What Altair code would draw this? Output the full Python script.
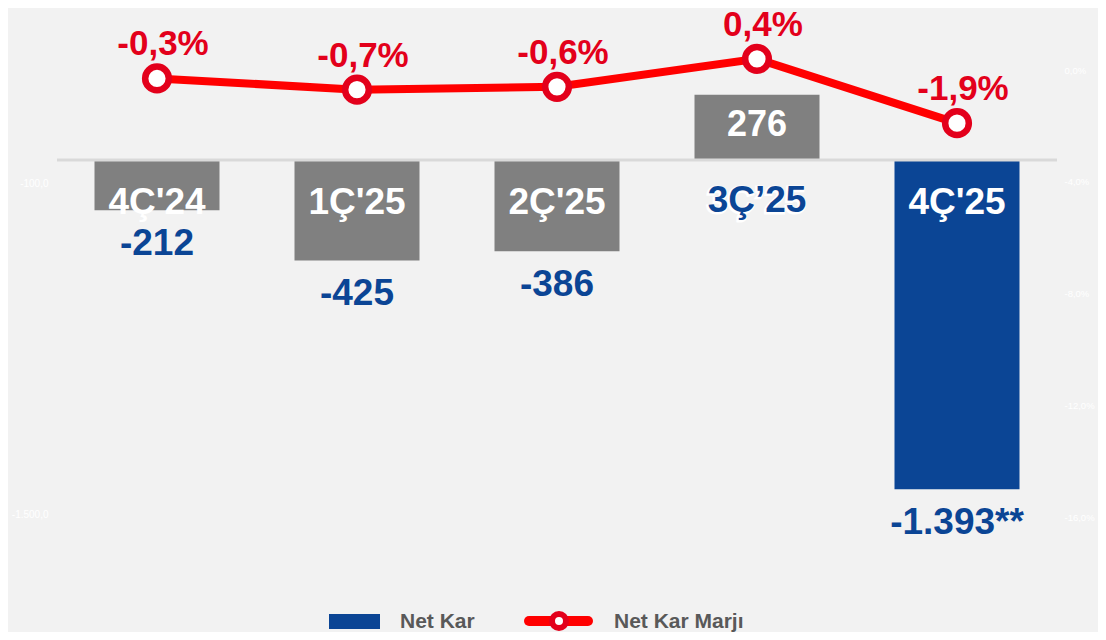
import altair as alt
import pandas as pd

categories = ["4Ç'24", "1Ç'25", "2Ç'25", "3Ç’25", "4Ç'25"]
net_kar = [-212, -425, -386, 276, -1393]
net_kar_labels = ["-212", "-425", "-386", "276", "-1.393**"]
margin = [-0.3, -0.7, -0.6, 0.4, -1.9]
margin_labels = ["-0,3%", "-0,7%", "-0,6%", "0,4%", "-1,9%"]
left_ticks = [-100, -1500]
left_tick_labels = ["-100,0", "-1.500,0"]
right_ticks = [0, -4, -8, -12, -16]
right_tick_labels = ["0,0%", "-4,0%", "-8,0%", "-12,0%", "-16,0%"]
legend_names = ["Net Kar", "Net Kar Marjı"]
highlight = "4Ç'25"
blue_label_cat = "3Ç’25"

BLUE = "#0b4595"
GRAY = "#808080"
RED_LINE = "#ff0000"
RED = "#e3001b"
BG = "#f2f2f2"
FONT = "Liberation Sans"

df = pd.DataFrame({
    "cat": categories,
    "val": net_kar,
    "vlab": net_kar_labels,
    "m": margin,
    "mlab": margin_labels,
})


def label_expr(vals, labs):
    s = "''"
    for v, l in reversed(list(zip(vals, labs))):
        s = f"datum.value == {v} ? '{l}' : ({s})"
    return s


x = alt.X("cat:N", sort=categories, axis=None,
          scale=alt.Scale(paddingInner=0.375, paddingOuter=0.1875))
yl_scale = alt.Scale(domain=[-1510, 605], nice=False, zero=False)
yr_scale = alt.Scale(domain=[-16, 1.9], nice=False, zero=False)

base = alt.Chart(df)

bars = base.mark_bar().encode(
    x=x,
    y=alt.Y("val:Q", scale=yl_scale, title=None,
            axis=alt.Axis(orient="left", values=left_ticks,
                          labelExpr=label_expr(left_ticks, left_tick_labels),
                          labelColor="white", labelFontSize=10, labelFont=FONT,
                          domain=False, ticks=False, grid=False, labelPadding=9)),
    color=alt.condition(alt.datum.cat == highlight, alt.value(BLUE), alt.value(GRAY)),
)

zero = base.transform_filter(alt.datum.cat == categories[0]).mark_rule(
    color="#d9d9d9", strokeWidth=3
).encode(y=alt.Y("z:Q", scale=yl_scale, axis=None)).transform_calculate(z="0")

neg_labels = base.transform_filter(alt.datum.val < 0).mark_text(
    font=FONT, fontWeight="bold", fontSize=37, color=BLUE, baseline="alphabetic", dy=45
).encode(x=x, y=alt.Y("val:Q", scale=yl_scale, axis=None), text="vlab:N")

pos_labels = base.transform_filter(alt.datum.val >= 0).mark_text(
    font=FONT, fontWeight="bold", fontSize=36, color="white", baseline="alphabetic", dy=41
).encode(x=x, y=alt.Y("val:Q", scale=yl_scale, axis=None), text="vlab:N")

cat_white = base.transform_filter(alt.datum.cat != blue_label_cat).mark_text(
    font=FONT, fontWeight="bold", fontSize=37, color="white", baseline="alphabetic"
).encode(x=x, y=alt.value(197), text="cat:N")

cat_shadow = base.transform_filter(alt.datum.cat == blue_label_cat).mark_text(
    font=FONT, fontWeight="bold", fontSize=37, color="white", baseline="alphabetic",
    stroke="white", strokeWidth=3, dx=-1, dy=1
).encode(x=x, y=alt.value(195), text="cat:N")

cat_blue = base.transform_filter(alt.datum.cat == blue_label_cat).mark_text(
    font=FONT, fontWeight="bold", fontSize=37, color=BLUE, baseline="alphabetic"
).encode(x=x, y=alt.value(195), text="cat:N")

line = base.mark_line(color=RED_LINE, strokeWidth=8).encode(
    x=x,
    y=alt.Y("m:Q", scale=yr_scale, title=None,
            axis=alt.Axis(orient="right", values=right_ticks,
                          labelExpr=label_expr(right_ticks, right_tick_labels),
                          labelColor="white", labelFontSize=9.5, labelFont=FONT,
                          labelAlign="left",
                          domain=False, ticks=False, grid=False, labelPadding=7)),
)

points = base.mark_point(shape="circle", filled=True, fill="white", stroke=RED,
                         strokeWidth=6.5, size=560, opacity=1).encode(
    x=x, y=alt.Y("m:Q", scale=yr_scale, axis=None))

mlabels = base.mark_text(font=FONT, fontWeight="bold", fontSize=35, color=RED,
                         baseline="alphabetic", dy=-23, dx=6).encode(
    x=x, y=alt.Y("m:Q", scale=yr_scale, axis=None), text="mlab:N")

# legend
leg_df = pd.DataFrame({"name": legend_names})
leg = alt.Chart(leg_df)
leg_rect = leg.transform_filter(alt.datum.name == legend_names[0]).mark_rect(color=BLUE).encode(
    x=alt.value(272), x2=alt.value(323), y=alt.value(597), y2=alt.value(612))
leg_text1 = leg.transform_filter(alt.datum.name == legend_names[0]).mark_text(
    font=FONT, fontWeight="bold", fontSize=21, color="#595959", align="left", baseline="alphabetic"
).encode(x=alt.value(343), y=alt.value(611), text="name:N")
leg_line = leg.transform_filter(alt.datum.name == legend_names[1]).mark_rule(
    color=RED_LINE, strokeWidth=10, strokeCap="round").encode(
    x=alt.value(472), x2=alt.value(531), y=alt.value(604))
leg_pt = leg.transform_filter(alt.datum.name == legend_names[1]).mark_point(
    shape="circle", filled=True, fill="white", stroke=RED, strokeWidth=6, size=196, opacity=1
).encode(x=alt.value(502), y=alt.value(604))
leg_text2 = leg.transform_filter(alt.datum.name == legend_names[1]).mark_text(
    font=FONT, fontWeight="bold", fontSize=21, color="#595959", align="left", baseline="alphabetic"
).encode(x=alt.value(557), y=alt.value(611), text="name:N")

chart = alt.layer(
    bars, zero, neg_labels, pos_labels, cat_white, cat_shadow, cat_blue,
    line, points, mlabels,
    leg_rect, leg_text1, leg_line, leg_pt, leg_text2,
).resolve_scale(y="independent").properties(
    width=1000, height=500,
    background=BG,
    padding={"left": 49, "top": 9, "right": 41, "bottom": 115},
    autosize=alt.AutoSizeParams(type="none"),
).configure_view(strokeWidth=0)

chart.save("out.html", embed_options={"renderer": "svg", "actions": False})
